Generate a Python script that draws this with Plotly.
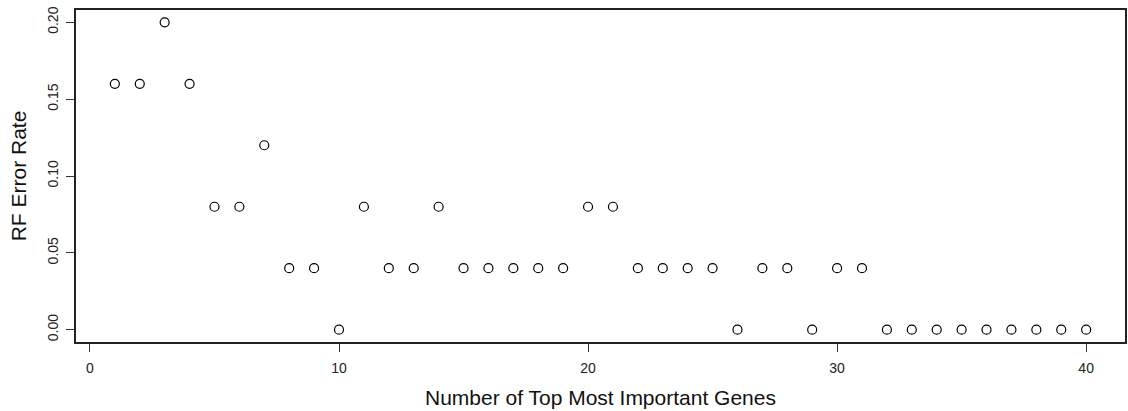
import plotly.graph_objects as go

n_genes = list(range(1, 41))
error_rate = [0.16, 0.16, 0.20, 0.16, 0.08, 0.08, 0.12, 0.04, 0.04, 0.00,
              0.08, 0.04, 0.04, 0.08, 0.04, 0.04, 0.04, 0.04, 0.04, 0.08,
              0.08, 0.04, 0.04, 0.04, 0.04, 0.00, 0.04, 0.04, 0.00, 0.04,
              0.04, 0.00, 0.00, 0.00, 0.00, 0.00, 0.00, 0.00, 0.00, 0.00]
x_ticks = [0, 10, 20, 30, 40]
y_ticks = [0.00, 0.05, 0.10, 0.15, 0.20]
y_tick_text = ["0.00", "0.05", "0.10", "0.15", "0.20"]

fig = go.Figure()
fig.add_trace(go.Scatter(
    x=n_genes, y=error_rate, mode="markers",
    marker=dict(symbol="circle-open", size=9, color="black", line=dict(width=1.2, color="black")),
    showlegend=False,
))

axis_common = dict(
    showgrid=False, zeroline=False, showline=True, linecolor="#222", linewidth=1.5,
    mirror=True, ticks="outside", ticklen=8, tickcolor="#333", tickwidth=1,
    tickfont=dict(family="Liberation Sans, Arial, sans-serif", size=14, color="#222"),
)
fig.update_layout(
    width=1128, height=411,
    margin=dict(l=76, r=1, t=10, b=69),
    paper_bgcolor="white", plot_bgcolor="white",
    font=dict(family="Liberation Sans, Arial, sans-serif", color="#111"),
    xaxis=dict(range=[-0.56, 41.56], tickvals=x_ticks, ticklabelstandoff=4, **axis_common,
               title=dict(text="Number of Top Most Important Genes", font=dict(size=21), standoff=16)),
    yaxis=dict(range=[-0.008, 0.208], tickvals=y_ticks, ticktext=y_tick_text, tickangle=-90,
               ticklabelstandoff=3, **axis_common,
               title=dict(text="RF Error Rate", font=dict(size=21), standoff=12)),
)
fig.write_html("out.html")
